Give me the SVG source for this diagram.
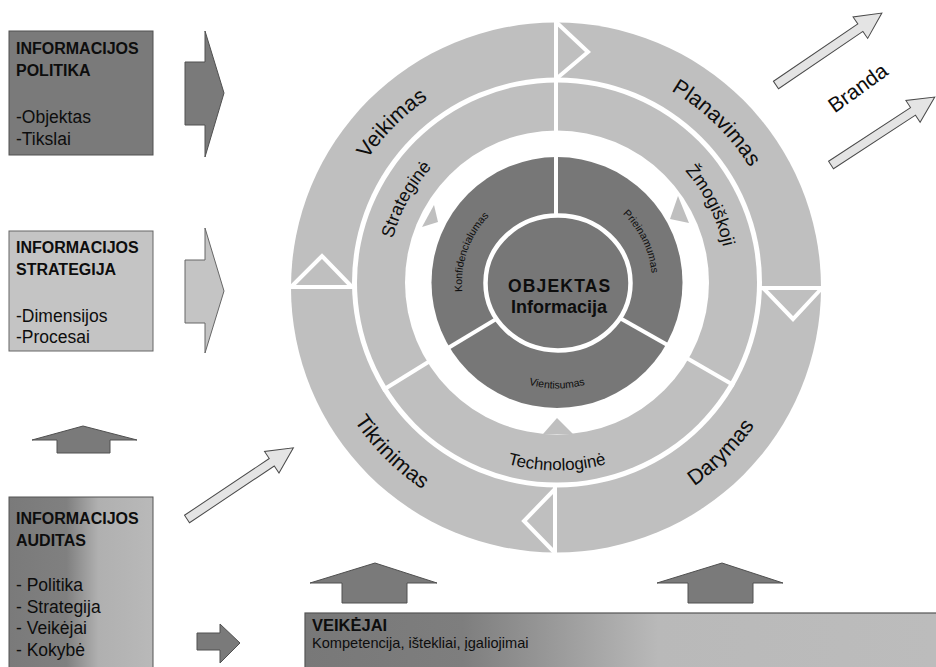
<svg xmlns="http://www.w3.org/2000/svg" width="936" height="667" viewBox="0 0 936 667">
<style>
.t{font-family:"Liberation Sans",Arial,sans-serif;fill:#0d0d0d}
.b{font-weight:bold;font-size:16px}
.r{font-size:17.5px}
.arc{font-size:21.5px}
.in{font-size:18px}
.sm{font-size:10.5px}
.dk{fill:#7a7a7a;stroke:#505050;stroke-width:1}
.lt{fill:#c4c4c4;stroke:#666;stroke-width:1}
.ar{fill:#e4e4e4;stroke:#4a4a4a;stroke-width:1}
.w{stroke:#fff;stroke-width:4;fill:none}
.band{fill:#bfbfbf}
.dark{fill:#777}
</style>
<defs>
<linearGradient id="gAud" gradientUnits="userSpaceOnUse" x1="9" y1="0" x2="153" y2="0">
<stop offset="0" stop-color="#7a7a7a"/><stop offset="0.4" stop-color="#808080"/><stop offset="0.62" stop-color="#b0b0b0"/><stop offset="1" stop-color="#b9b9b9"/>
</linearGradient>
<linearGradient id="gVei" gradientUnits="userSpaceOnUse" x1="305" y1="0" x2="936" y2="0">
<stop offset="0" stop-color="#787878"/><stop offset="0.25" stop-color="#7e7e7e"/><stop offset="0.47" stop-color="#a8a8a8"/><stop offset="0.56" stop-color="#b9b9b9"/><stop offset="1" stop-color="#bcbcbc"/>
</linearGradient>
<path id="pOutTop" d="M 556 515.5 A 228 228 0 0 1 556 59.5 A 228 228 0 0 1 556 515.5"/>
<path id="pOutBot" d="M 556 45.5 A 242 242 0 0 0 556 529.5 A 242 242 0 0 0 556 45.5"/>
<path id="pInTop" d="M 557 452.5 A 170 170 0 0 1 557 112.5 A 170 170 0 0 1 557 452.5"/>
<path id="pInBot" d="M 557 94.5 A 188 188 0 0 0 557 470.5 A 188 188 0 0 0 557 94.5"/>
<path id="pDkTop" d="M 557 377.5 A 95 95 0 0 1 557 187.5 A 95 95 0 0 1 557 377.5"/>
<path id="pDkBot" d="M 557 176.5 A 106 106 0 0 0 557 388.5 A 106 106 0 0 0 557 176.5"/>
</defs>

<g id="box-politika">
<rect x="9" y="31" width="144" height="124" class="dk"/>
<text class="t b" x="16" y="54">INFORMACIJOS</text>
<text class="t b" x="16" y="76">POLITIKA</text>
<text class="t r" x="16" y="122.5">-Objektas</text>
<text class="t r" x="16" y="145">-Tikslai</text>
</g>

<g id="box-strategija">
<rect x="9" y="231" width="144" height="120" class="lt"/>
<text class="t b" x="16" y="253">INFORMACIJOS</text>
<text class="t b" x="16" y="275">STRATEGIJA</text>
<text class="t r" x="16" y="321.5">-Dimensijos</text>
<text class="t r" x="16" y="343">-Procesai</text>
</g>

<g id="box-auditas">
<rect x="9" y="497" width="144" height="180" fill="url(#gAud)" stroke="#555" stroke-width="1"/>
<text class="t b" x="16" y="524">INFORMACIJOS</text>
<text class="t b" x="16" y="546">AUDITAS</text>
<text class="t r" x="16" y="591">- Politika</text>
<text class="t r" x="16" y="612.5">- Strategija</text>
<text class="t r" x="16" y="634">- Veikėjai</text>
<text class="t r" x="16" y="656">- Kokybė</text>
</g>

<g id="box-veikejai">
<rect x="305" y="613" width="640" height="70" fill="url(#gVei)" stroke="#555" stroke-width="1.2"/>
<text class="t" x="312" y="630.5" font-weight="bold" font-size="16.5">VEIKĖJAI</text>
<text class="t" x="312" y="648" font-size="14.6">Kompetencija, ištekliai, įgaliojimai</text>
</g>

<g id="cycle">
<circle cx="556" cy="287.5" r="265" class="band"/>
<circle cx="557" cy="282.5" r="205" fill="#fff"/>
<circle cx="557" cy="282.5" r="200" class="band"/>
<circle cx="557" cy="282.5" r="152" fill="#fff"/>
<circle cx="557" cy="282.5" r="125.5" class="dark"/>
<polygon class="band" points="422,227 434,205 438,222"/>
<polygon class="band" points="670,219 678,196 689,223"/>
<polygon class="band" points="543,434 557,418 573,434"/>
<g id="outer-dividers" class="w">
<path d="M556,18 V82 M556,22 L588,52 L556,79"/>
<path d="M760,288 H826 M763,288 L793,319 L822,288"/>
<path d="M555,486 V556 M555,489 L524,521 L555,553"/>
<path d="M288,287 H354 M291,287 L322,256 L352,287"/>
</g>
<g id="inner-dividers" class="w">
<path d="M556,80 V135"/>
<path d="M432.8,359.2 L382.6,390.2"/>
<path d="M683.2,356 L734.2,385.6"/>
<path d="M556,154 V218"/>
<path d="M505.6,313.4 L446.4,349"/>
<path d="M609.2,312 L669.3,346"/>
</g>
<ellipse cx="558" cy="283" rx="72.5" ry="67.5" class="dark" stroke="#fff" stroke-width="4.5"/>
</g>

<g id="labels-outer">
<text class="t arc"><textPath href="#pOutTop" startOffset="37.5%" text-anchor="middle">Veikimas</textPath></text>
<text class="t arc"><textPath href="#pOutTop" startOffset="62.3%" text-anchor="middle">Planavimas</textPath></text>
<text class="t arc"><textPath href="#pOutBot" startOffset="37.5%" text-anchor="middle">Tikrinimas</textPath></text>
<text class="t arc"><textPath href="#pOutBot" startOffset="62.5%" text-anchor="middle">Darymas</textPath></text>
</g>
<g id="labels-inner">
<text class="t in"><textPath href="#pInTop" startOffset="33%" text-anchor="middle">Strateginė</textPath></text>
<text class="t in"><textPath href="#pInTop" startOffset="67.6%" text-anchor="middle">Žmogiškoji</textPath></text>
<text class="t" font-size="17"><textPath href="#pInBot" startOffset="50%" text-anchor="middle">Technologinė</textPath></text>
</g>
<g id="labels-core">
<text class="t sm"><textPath href="#pDkTop" startOffset="30.4%" text-anchor="middle">Konfidencialumas</textPath></text>
<text class="t sm"><textPath href="#pDkTop" startOffset="67.8%" text-anchor="middle">Prieinamumas</textPath></text>
<text class="t sm"><textPath href="#pDkBot" startOffset="50%" text-anchor="middle">Vientisumas</textPath></text>
</g>
<g id="center">
<text class="t" x="559.7" y="292" text-anchor="middle" font-weight="bold" font-size="17.5" letter-spacing="1.2">OBJEKTAS</text>
<text class="t" x="559" y="313" text-anchor="middle" font-weight="bold" font-size="18">Informacija</text>
</g>

<g id="branda-label">
<text class="t" x="858" y="95" text-anchor="middle" font-size="21" transform="rotate(-36 858 88)">Branda</text>
</g>

<g id="connectors">
<polygon class="dk" points="185,62 205,62 205,31 224,93 205,157 205,125 185,125"/>
<polygon class="lt" points="185,260 205,260 205,228 224,291 205,353 205,323 185,323"/>
<polygon class="dk" points="32,440 83,426 137,440 110,440 110,453 57,453 57,440"/>
<polygon class="dk" points="197,633 220,633 220,624 240,643 220,663 220,650 197,650"/>
<polygon class="dk" points="310,583 375,563 437,583 407,583 407,603 342,603 342,583"/>
<polygon class="dk" points="657,583 722,563 783,583 753,583 753,603 688,603 688,583"/>
<polygon class="ar" transform="translate(187 519) rotate(-33.8)" points="0,-4.5 102,-4.5 102,-13 128,0 102,13 102,4.5 0,4.5"/>
<polygon class="ar" transform="translate(776 85) rotate(-34.2)" points="0,-4.5 102,-4.5 102,-13 128,0 102,13 102,4.5 0,4.5"/>
<polygon class="ar" transform="translate(831 165) rotate(-33.2)" points="0,-4.5 98,-4.5 98,-13 124,0 98,13 98,4.5 0,4.5"/>
</g>
</svg>
